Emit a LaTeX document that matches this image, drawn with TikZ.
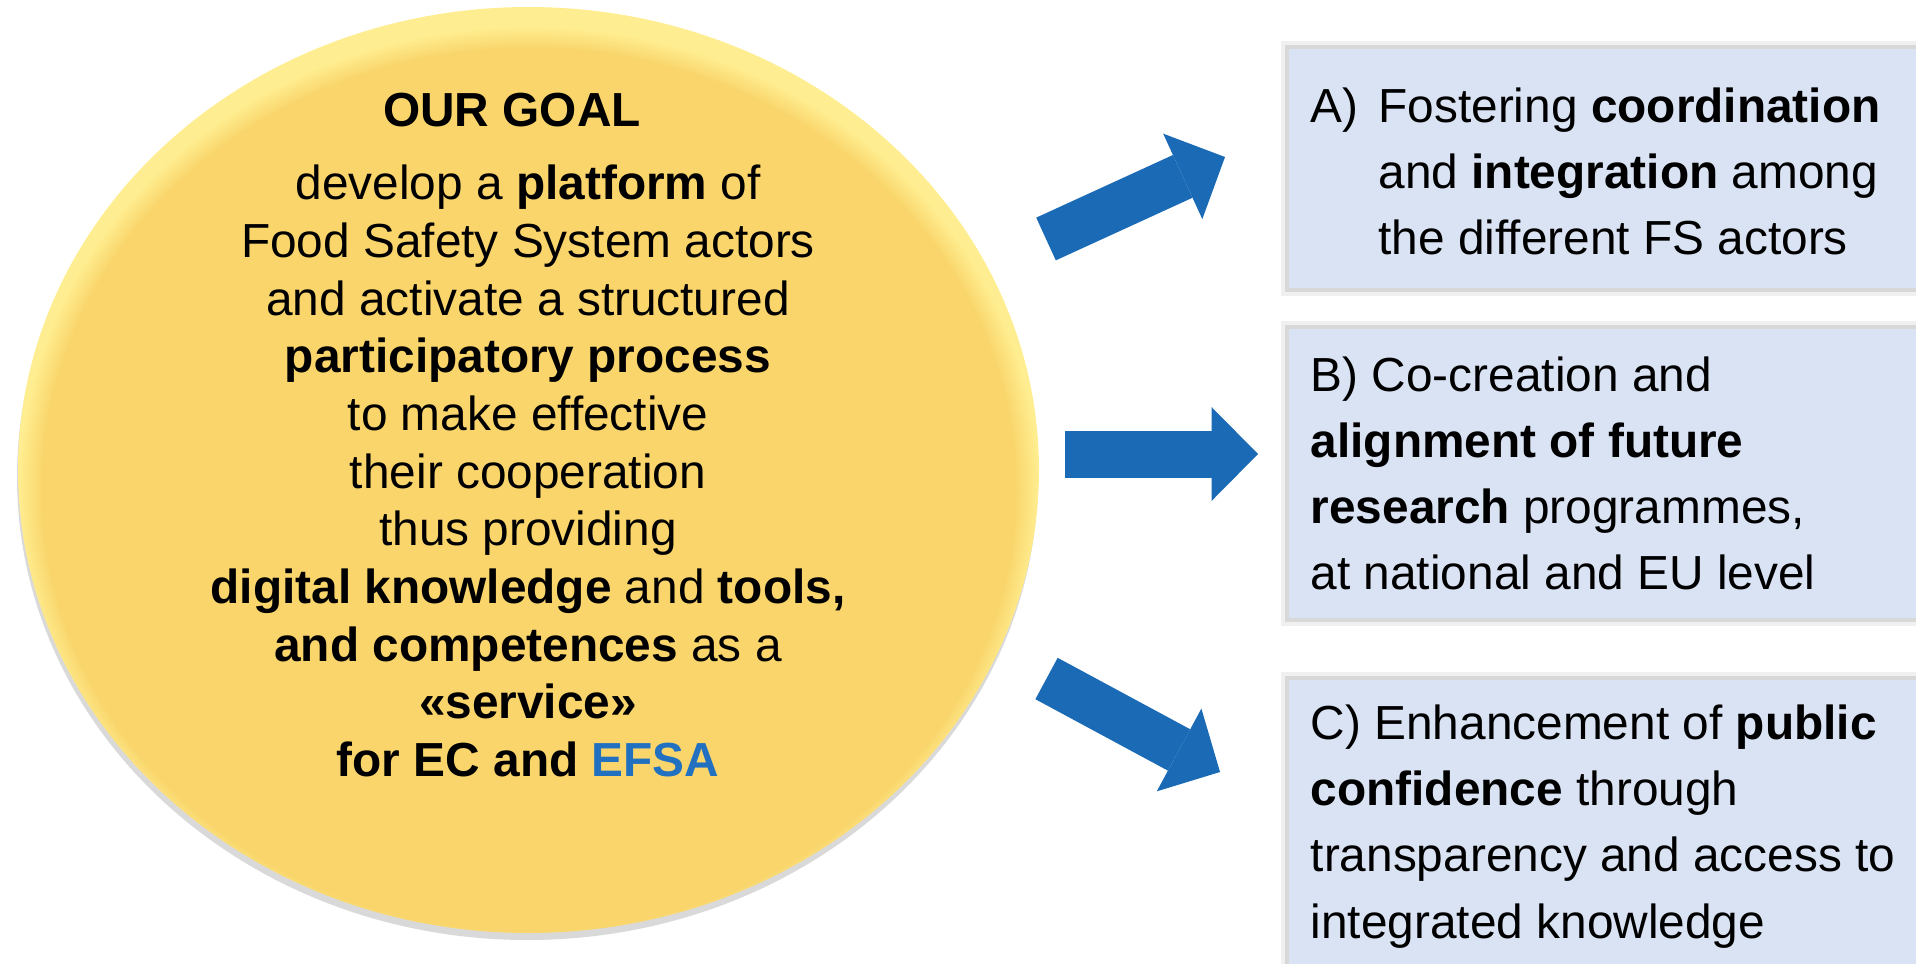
\documentclass[tikz,border=0pt]{standalone}
\usepackage{fontspec}
\setmainfont{Liberation Sans}
\usetikzlibrary{arrows.meta,shapes.geometric,shadows}

\definecolor{goalgold}{RGB}{249,213,107}
\definecolor{goalrim}{RGB}{255,238,145}
\definecolor{arrowblue}{RGB}{26,106,182}
\definecolor{efsablue}{RGB}{34,112,192}
\definecolor{factblue}{RGB}{218,227,243}

\pgfdeclareradialshading{goalglow}{\pgfpoint{0bp}{-2bp}}{color(0bp)=(goalgold); color(23.8bp)=(goalgold); color(25bp)=(goalrim); color(50bp)=(goalrim)}

\tikzset{
    goal/.style={ellipse, inner sep=0, shade, shading=goalglow,
        drop shadow={shadow xshift=-.1mm, shadow yshift=-.7mm, opacity=.3}},
    goaltext/.style={align=center, inner sep=0, font=\fontsize{13.6}{16.4}\selectfont},
    factbox/.style={rectangle, fill=factblue, inner sep=0, anchor=north west, minimum width=65.2mm,
        preaction={draw=black, draw opacity=.06, line width=1.6mm},
        preaction={draw=black, draw opacity=.1, line width=.8mm}},
    facttext/.style={inner sep=0, anchor=west, font=\fontsize{13.6}{18.8}\selectfont},
    fatarrow/.style={draw=arrowblue, line width=4.7mm,
        -{Triangle[length=4.65mm, width=9.4mm, line width=0pt 0 0]}}
}

\begin{document}
\begin{tikzpicture}[x=0.1mm, y=-0.1mm]
    \useasboundingbox (0,0) rectangle (1916,963);

    \node[goal, minimum width=102.1mm, minimum height=92.6mm] (goal) at (528.5,470) {};
    \node[goaltext, font=\fontsize{13.6}{16.4}\selectfont\bfseries] (title) at (512,110) {OUR GOAL};
    \node[goaltext] (body) at (528,471) {develop a \textbf{platform} of\\
        Food Safety System actors\\
        and activate a structured\\
        \textbf{participatory process}\\
        to make effective\\
        their cooperation\\
        thus providing\\
        \textbf{digital knowledge} and \textbf{tools,}\\
        \textbf{and competences} as a\\
        \textbf{«service»}\\
        \textbf{for EC and \textcolor{efsablue}{EFSA}}};

    \node[factbox, minimum height=23.9mm] (boxA) at (1288,48) {};
    \node[factbox, minimum height=28.9mm] (boxB) at (1288,328) {};
    \node[factbox, minimum height=28.4mm] (boxC) at (1288,679) {};

    \node[facttext] (textA) at ([xshift=2.2mm, yshift=-.75mm]boxA.west) {%
        \begin{tabular}{@{}l@{\hspace{2mm}}l@{}}
            A) & Fostering \textbf{coordination}\\
               & and \textbf{integration} among\\
               & the different FS actors
        \end{tabular}};
    \node[facttext] (textB) at ([xshift=2.2mm, yshift=-.4mm]boxB.west) {%
        \begin{tabular}{@{}l@{}}
            B) Co-creation and\\
            \textbf{alignment of future}\\
            \textbf{research} programmes,\\
            at national and EU level
        \end{tabular}};
    \node[facttext] (textC) at ([xshift=2.2mm, yshift=-.4mm]boxC.west) {%
        \begin{tabular}{@{}l@{}}
            C) Enhancement of \textbf{public}\\
            \textbf{confidence} through\\
            transparency and access to\\
            integrated knowledge
        \end{tabular}};

    \coordinate (tailA) at (1046,239);
    \coordinate (tipA) at (1225,157);
    \coordinate (tailB) at (1065,454);
    \coordinate (tipB) at (1258,454);
    \coordinate (tailC) at (1046.5,678.5);
    \coordinate (tipC) at (1220,772);

    \draw[fatarrow] (tailA) -- (tipA);
    \draw[fatarrow] (tailB) -- (tipB);
    \draw[fatarrow] (tailC) -- (tipC);
\end{tikzpicture}
\end{document}
